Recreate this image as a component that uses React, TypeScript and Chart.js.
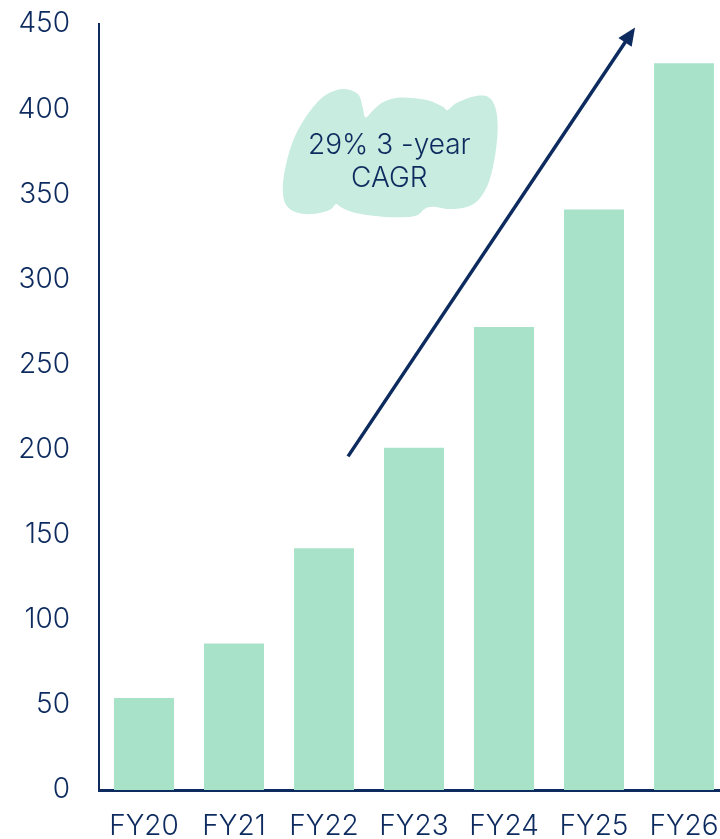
import React, { useEffect, useRef } from "react";
import { Chart, registerables } from "chart.js";

Chart.register(...registerables);

const categories = ["FY20", "FY21", "FY22", "FY23", "FY24", "FY25", "FY26"];
const revenue = [54, 86, 142, 201, 272, 341, 427];
const yMin = 0;
const yMax = 450;
const yStep = 50;
const annotationLines = ["29% 3 -year", "CAGR"];

const NAVY = "#0d2b5e";
const BAR = "#a8e2c9";
const BLOB = "#c8ece0";
const FONT = "Inter, 'Liberation Sans', Arial, sans-serif";

// normalized outline of the cloud-shaped label background (-1..1 box)
const blobShape: [number, number][] = [
  [-0.442, -1.0], [-0.302, -0.922], [-0.256, -0.714], [-0.231, -0.558],
  [-0.163, -0.662], [-0.07, -0.792], [0.054, -0.86], [0.209, -0.86],
  [0.364, -0.818], [0.488, -0.725], [0.535, -0.673], [0.612, -0.777],
  [0.767, -0.881], [0.907, -0.881], [0.978, -0.714], [1.0, -0.403],
  [0.978, 0.013], [0.922, 0.429], [0.829, 0.714], [0.705, 0.844],
  [0.55, 0.87], [0.395, 0.834], [0.318, 0.87], [0.24, 0.974],
  [0.054, 1.0], [-0.163, 0.974], [-0.349, 0.922], [-0.457, 0.844],
  [-0.504, 0.792], [-0.566, 0.886], [-0.721, 0.948], [-0.876, 0.922],
  [-0.975, 0.792], [-1.0, 0.532], [-0.969, 0.169], [-0.891, -0.247],
  [-0.767, -0.61], [-0.612, -0.896],
];

const annotationPlugin = {
  id: "cagrAnnotation",
  afterDatasetsDraw(chart: any) {
    const { ctx, scales } = chart;
    const x = scales.x;
    const y = scales.y;
    ctx.save();

    // cloud
    const cx = x.getPixelForValue(2.736);
    const rx = x.getPixelForValue(2.736 + 1.194) - cx;
    const cy = y.getPixelForValue(374.1);
    const ry = y.getPixelForValue(374.1 - 37.7) - cy;
    const pts = blobShape.map(([a, b]) => [cx + a * rx, cy + b * ry]);
    const n = pts.length;
    ctx.beginPath();
    ctx.moveTo(pts[0][0], pts[0][1]);
    for (let i = 0; i < n; i++) {
      const p0 = pts[(i - 1 + n) % n];
      const p1 = pts[i];
      const p2 = pts[(i + 1) % n];
      const p3 = pts[(i + 2) % n];
      const c1x = p1[0] + (p2[0] - p0[0]) / 6;
      const c1y = p1[1] + (p2[1] - p0[1]) / 6;
      const c2x = p2[0] - (p3[0] - p1[0]) / 6;
      const c2y = p2[1] - (p3[1] - p1[1]) / 6;
      ctx.bezierCurveTo(c1x, c1y, c2x, c2y, p2[0], p2[1]);
    }
    ctx.closePath();
    ctx.fillStyle = BLOB;
    ctx.fill();

    // text
    const tx = x.getPixelForValue(2.726);
    ctx.fillStyle = NAVY;
    ctx.font = `300 28px ${FONT}`;
    ctx.textAlign = "center";
    ctx.textBaseline = "alphabetic";
    ctx.fillText(annotationLines[0], tx, y.getPixelForValue(373.6));
    ctx.fillText(annotationLines[1], tx, y.getPixelForValue(354.1));

    // arrow
    const x0 = x.getPixelForValue(2.267);
    const y0 = y.getPixelForValue(196);
    const x1 = x.getPixelForValue(5.456);
    const y1 = y.getPixelForValue(448);
    const ang = Math.atan2(y1 - y0, x1 - x0);
    const headLen = 18;
    const headHalf = 8;
    const bx = x1 - headLen * Math.cos(ang);
    const by = y1 - headLen * Math.sin(ang);
    ctx.strokeStyle = NAVY;
    ctx.lineWidth = 3.5;
    ctx.beginPath();
    ctx.moveTo(x0, y0);
    ctx.lineTo(bx + 2 * Math.cos(ang), by + 2 * Math.sin(ang));
    ctx.stroke();
    ctx.beginPath();
    ctx.moveTo(x1, y1);
    ctx.lineTo(bx + headHalf * Math.sin(ang), by - headHalf * Math.cos(ang));
    ctx.lineTo(bx - headHalf * Math.sin(ang), by + headHalf * Math.cos(ang));
    ctx.closePath();
    ctx.fillStyle = NAVY;
    ctx.fill();

    ctx.restore();
  },
};

export default function App() {
  const ref = useRef<HTMLCanvasElement>(null);
  useEffect(() => {
    document.body.style.margin = "0";
    const chart = new Chart(ref.current as HTMLCanvasElement, {
      type: "bar",
      data: {
        labels: categories,
        datasets: [
          {
            data: revenue,
            backgroundColor: BAR,
            borderWidth: 0,
            categoryPercentage: 1,
            barPercentage: 0.6667,
          },
        ],
      },
      options: {
        responsive: false,
        animation: false,
        devicePixelRatio: 1,
        layout: { padding: { top: 24, right: 11, left: 0, bottom: 0 } },
        plugins: { legend: { display: false }, tooltip: { enabled: false } },
        scales: {
          x: {
            grid: { display: false, drawTicks: false },
            border: { display: true, color: NAVY, width: 3 },
            ticks: {
              color: NAVY,
              font: { family: FONT, size: 28, weight: "300" as any },
              padding: 20,
              maxRotation: 0,
              autoSkip: false,
            },
            afterFit(scale: any) {
              scale.height = 49;
              scale.paddingLeft = 0;
              scale.paddingRight = 0;
            },
          },
          y: {
            min: yMin,
            max: yMax,
            grid: { display: false, drawTicks: false },
            border: { display: true, color: NAVY, width: 2 },
            ticks: {
              stepSize: yStep,
              color: NAVY,
              font: { family: FONT, size: 28, weight: "300" as any },
              padding: 29,
            },
            afterFit(scale: any) {
              scale.width = 99;
              scale.paddingTop = 0;
              scale.paddingBottom = 0;
            },
          },
        },
      },
      plugins: [annotationPlugin],
    });
    return () => chart.destroy();
  }, []);
  return (
    <div
      style={{
        position: "fixed",
        left: 0,
        top: 0,
        width: 720,
        height: 839,
        overflow: "hidden",
        background: "#fff",
      }}
    >
      <canvas ref={ref} width={740} height={839} style={{ display: "block", width: 740, height: 839 }} />
    </div>
  );
}
